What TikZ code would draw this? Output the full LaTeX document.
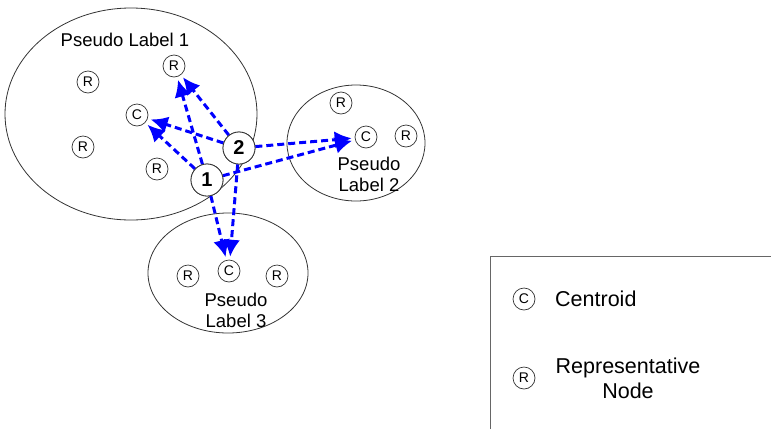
\documentclass[tikz,border=0pt]{standalone}
\usepackage{fontspec}
\setmainfont{Liberation Sans}
\usetikzlibrary{arrows.meta}
\tikzset{
  small/.style={circle, draw=black!80, line width=0.7pt, fill=white, minimum size=22pt, inner sep=0pt, font=\fontsize{14}{14}\selectfont},
  query/.style={circle, draw=black!80, line width=0.8pt, fill=white, minimum size=32pt, inner sep=0pt, font=\fontsize{20}{20}\selectfont\bfseries},
  lbl/.style={font=\fontsize{18.5}{21}\selectfont, align=center, inner sep=0pt},
  leg/.style={font=\fontsize{21.5}{25}\selectfont, align=center, inner sep=0pt},
  link/.style={draw=blue, line width=3pt, dash pattern=on 7pt off 4pt, -{Latex[length=17pt,width=17pt]}, shorten >=3pt},
}
\begin{document}
\begin{tikzpicture}[x=1pt,y=-1pt]
\useasboundingbox (0,0) rectangle (771,429);
% clusters
\draw[draw=black!80, line width=0.8pt] (131,114) ellipse [x radius=126, y radius=106];
\draw[draw=black!80, line width=0.8pt] (356,143) ellipse [x radius=69, y radius=58];
\draw[draw=black!80, line width=0.8pt] (228,273) ellipse [x radius=80, y radius=60];
\node[lbl] (t1) at (125,40) {Pseudo Label 1};
\node[lbl] (t2) at (369,174) {Pseudo\\Label 2};
\node[lbl] (t3) at (236,310) {Pseudo\\Label 3};
% cluster 1 nodes
\node[small] (r11) at (88,82) {R};
\node[small] (r12) at (174,66) {R};
\node[small] (c1) at (137,115) {C};
\node[small] (r13) at (83,147) {R};
\node[small] (r14) at (157,169) {R};
% cluster 2 nodes
\node[small] (r21) at (341,103) {R};
\node[small] (c2) at (366,137) {C};
\node[small] (r22) at (406,136) {R};
% cluster 3 nodes
\node[small] (r31) at (188,276) {R};
\node[small] (c3) at (229,271) {C};
\node[small] (r32) at (277,276) {R};
% query nodes
\node[query] (q1) at (207,180) {1};
\node[query] (q2) at (239,148) {2};
% links
\draw[link] (q1) -- (r12);
\draw[link] (q2) -- (r12);
\draw[link] (q1) -- (c1);
\draw[link] (q2) -- (c1);
\draw[link] (q1) -- (c2);
\draw[link] (q2) -- (c2);
\draw[link] (q1) -- (c3);
\draw[link] (q2) -- (c3);
\node[query] at (207,180) {1};
\node[query] at (239,148) {2};
% legend
\draw[black!60, line width=1pt] (490,429) -- (490,256) -- (771,256);
\node[small] (lc) at (524,299) {C};
\node[leg, anchor=west] (lct) at (555,299) {Centroid};
\node[small] (lr) at (524,378) {R};
\node[leg] (lrt) at (628,378) {Representative\\Node};
\end{tikzpicture}
\end{document}
